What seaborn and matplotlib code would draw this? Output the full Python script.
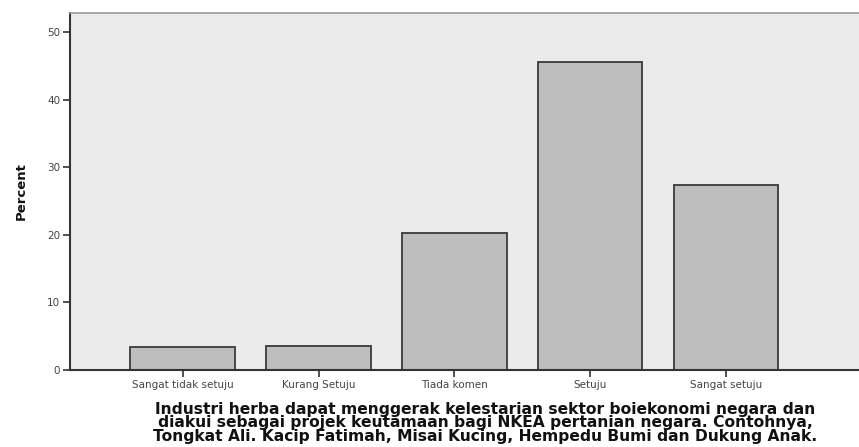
import matplotlib
matplotlib.use("Agg")
import matplotlib.pyplot as plt
import seaborn as sns
import pandas as pd

# Data
kategori = ['Sangat tidak setuju', 'Kurang Setuju', 'Tiada komen', 'Setuju', 'Sangat setuju']
peratus = [3.4, 3.6, 20.2, 45.5, 27.3]

df = pd.DataFrame({'kategori': kategori, 'peratus': peratus})

sns.set_style('white')
plt.rcParams['font.family'] = ['DejaVu Sans']

fig = plt.figure(figsize=(8.59, 4.47), dpi=100)
ax = fig.add_axes([0.0815, 0.172, 0.9185, 0.799])

sns.barplot(data=df, x='kategori', y='peratus', color='#bebebe',
            edgecolor='#3a3a3a', linewidth=1.3, width=0.77, saturation=1, ax=ax)

ax.set_facecolor('#ebebeb')
ax.set_ylim(0, 52.8)
ax.set_xlim(-0.83, 4.98)
ax.set_yticks([0, 10, 20, 30, 40, 50])

for s in ['left', 'bottom']:
    ax.spines[s].set_color('#333333')
    ax.spines[s].set_linewidth(1.5)
ax.spines['top'].set_color('#999999')
ax.spines['top'].set_linewidth(1.2)
ax.spines['right'].set_visible(False)

ax.tick_params(axis='both', bottom=True, left=True, direction='out', length=5,
               width=1.2, color='#333333', labelsize=7.5, labelcolor='#444444', pad=2)

ax.set_ylabel('Percent', fontsize=9.5, fontweight='bold', color='#111111')
ax.yaxis.set_label_coords(-0.053, 0.5)
ax.set_xlabel('Industri herba dapat menggerak kelestarian sektor boiekonomi negara dan\n'
              'diakui sebagai projek keutamaan bagi NKEA pertanian negara. Contohnya,\n'
              'Tongkat Ali. Kacip Fatimah, Misai Kucing, Hempedu Bumi dan Dukung Anak.',
              fontsize=11.2, fontweight='bold', linespacing=0.9, color='#111111')
ax.xaxis.set_label_coords(0.526, -0.088)

plt.savefig('out.png', dpi=100)
